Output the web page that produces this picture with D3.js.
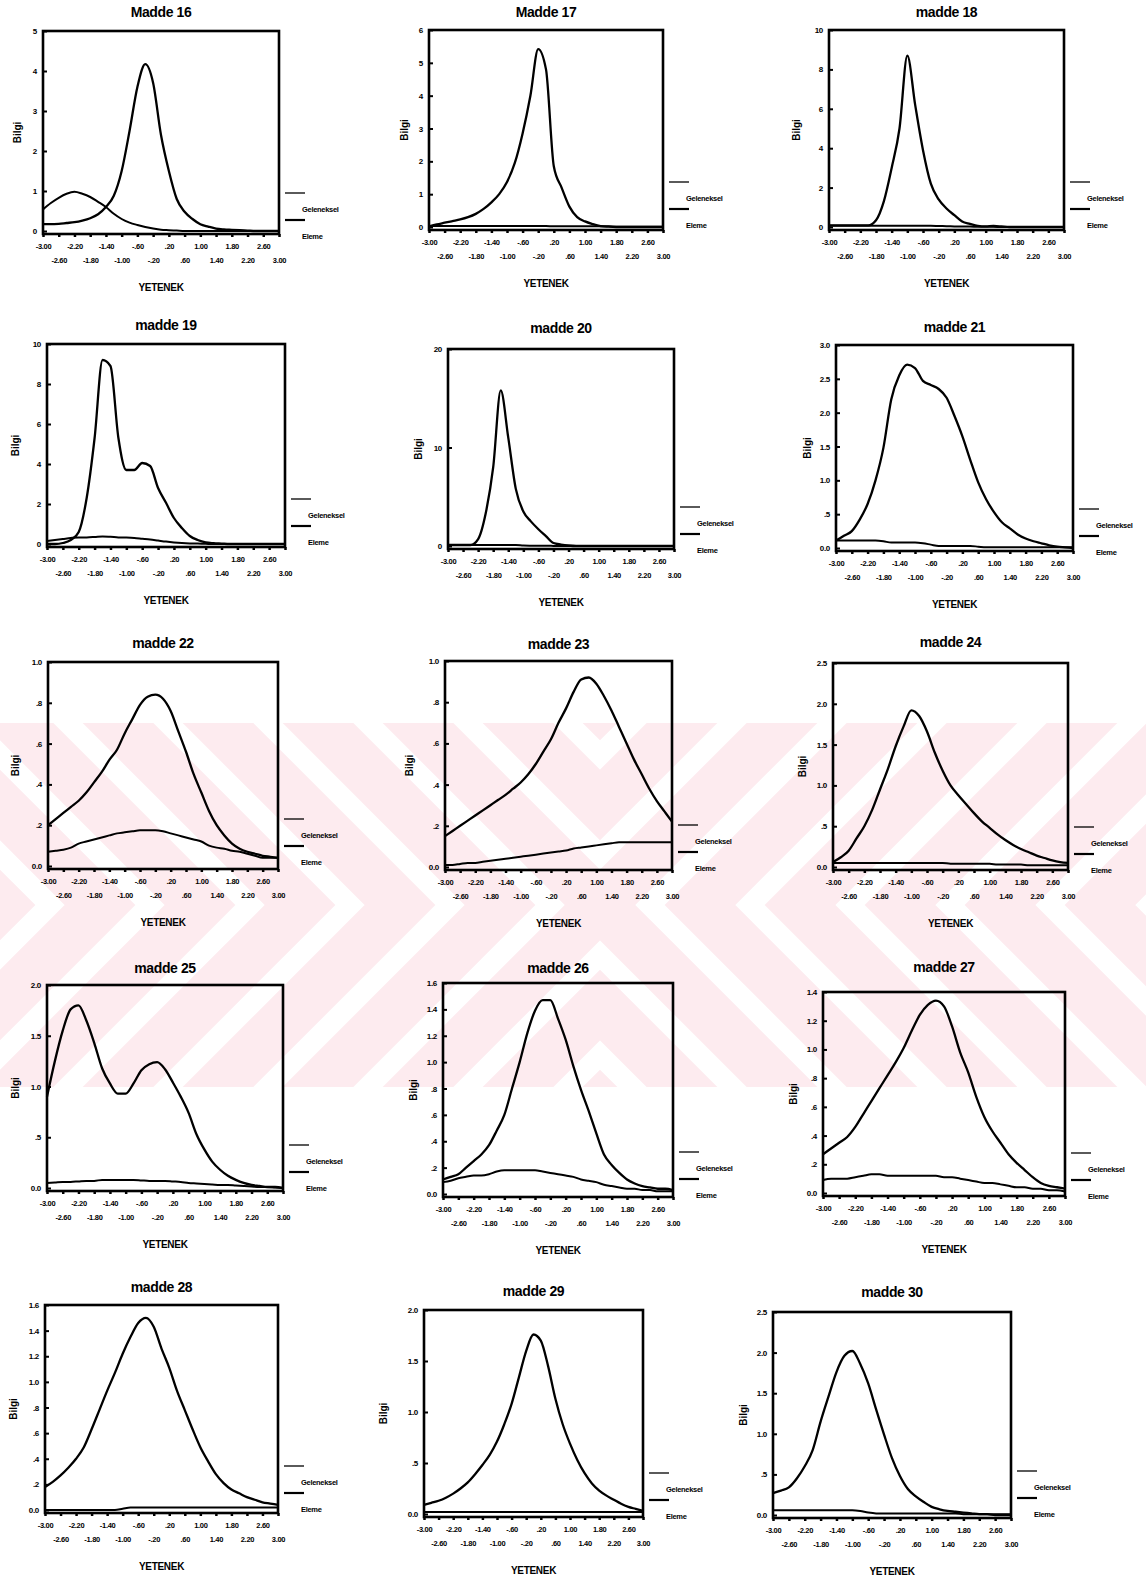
<!DOCTYPE html>
<html>
<head>
<meta charset="utf-8">
<script src="https://cdn.jsdelivr.net/npm/d3@7"></script>
<style>
  body { margin: 0; background: #fff; }
  svg text { font-family: "Liberation Sans", Arial, sans-serif; font-weight: bold; fill: #000; }
</style>
</head>
<body>
<svg id="chart" width="1146" height="1582"></svg>
<script>
/* Madde bilgi fonksiyonları — 15 panels, Geleneksel vs Eleme */

const THETA = [-3.0,-2.8,-2.6,-2.4,-2.2,-2.0,-1.8,-1.6,-1.4,-1.2,-1.0,-0.8,-0.6,-0.4,-0.2,0.0,0.2,0.4,0.6,0.8,1.0,1.2,1.4,1.6,1.8,2.0,2.2,2.4,2.6,2.8,3.0];
const X_TICKS = [-3.0,-2.6,-2.2,-1.8,-1.4,-1.0,-0.6,-0.2,0.2,0.6,1.0,1.4,1.8,2.2,2.6,3.0];
const LEGEND = ["Geleneksel", "Eleme"];

const TITLES = ["Madde 16","Madde 17","madde 18","madde 19","madde 20","madde 21","madde 22","madde 23","madde 24","madde 25","madde 26","madde 27","madde 28","madde 29","madde 30"];
const Y_MAX  = [5, 6, 10, 10, 20, 3, 1, 1, 2.5, 2, 1.6, 1.4, 1.6, 2, 2.5];
const Y_STEP = [1, 1, 2, 2, 10, 0.5, 0.2, 0.2, 0.5, 0.5, 0.2, 0.2, 0.2, 0.5, 0.5];

const gel16 = [0.17,0.17,0.18,0.2,0.22,0.26,0.32,0.42,0.6,0.88,1.5,2.5,3.6,4.17,3.7,2.4,1.5,0.8,0.48,0.3,0.17,0.11,0.06,0.04,0.03,0.02,0.01,0,0,0,0];
const elm16 = [0.54,0.7,0.83,0.93,0.98,0.93,0.85,0.73,0.6,0.43,0.3,0.21,0.15,0.1,0.06,0.03,0.02,0.01,0,0,0,0,0,0,0,0,0,0,0,0,0];
const gel17 = [0.02,0.08,0.13,0.18,0.23,0.3,0.4,0.55,0.75,1.0,1.37,1.95,2.85,4.0,5.42,4.8,1.85,1.2,0.62,0.3,0.17,0.09,0.03,0.01,0,0,0,0,0,0,0];
const elm17 = [0.03,0.03,0.03,0.03,0.03,0.03,0.03,0.03,0.03,0.03,0.03,0.03,0.03,0.03,0.03,0.03,0.02,0.02,0.02,0.02,0.02,0.02,0.02,0.02,0.01,0.01,0.01,0.01,0.01,0.01,0.01];
const gel18 = [0.08,0.08,0.08,0.08,0.08,0.08,0.34,1.3,3.0,5.0,8.7,6.2,3.9,2.2,1.4,0.94,0.6,0.28,0.16,0.06,0.03,0.05,0.03,0,0,0,0,0,0,0,0];
const elm18 = [0.06,0.06,0.06,0.06,0.06,0.06,0.06,0.06,0.06,0.06,0.06,0.06,0.06,0.06,0.05,0.04,0.03,0.02,0.02,0.01,0.01,0.01,0,0,0,0,0,0,0,0,0];
const gel19 = [0,0,0.05,0.2,0.6,2.3,5.3,9.2,8.9,5.3,3.7,3.7,4.05,3.9,2.8,2.06,1.3,0.8,0.4,0.2,0.08,0.04,0.02,0,0,0,0,0,0,0,0];
const elm19 = [0.15,0.2,0.25,0.3,0.33,0.33,0.35,0.38,0.36,0.33,0.32,0.3,0.26,0.22,0.17,0.12,0.08,0.05,0.03,0.02,0.01,0,0,0,0,0,0,0,0,0,0];
const gel20 = [0.1,0.1,0.1,0.1,0.7,3.3,8.0,15.8,11.0,5.8,3.5,2.5,1.7,1.0,0.3,0.15,0.05,0,0,0,0,0,0,0,0,0,0,0,0,0,0];
const elm20 = [0.1,0.1,0.1,0.1,0.1,0.1,0.1,0.1,0.1,0.1,0.05,0.03,0.02,0.02,0.01,0,0,0,0,0,0,0,0,0,0,0,0,0,0,0,0];
const gel21 = [0.11,0.18,0.25,0.42,0.65,1.0,1.48,2.2,2.55,2.71,2.66,2.47,2.41,2.35,2.22,1.95,1.65,1.3,0.97,0.72,0.53,0.38,0.29,0.2,0.14,0.1,0.07,0.04,0.02,0.01,0.0];
const elm21 = [0.11,0.11,0.11,0.11,0.11,0.11,0.1,0.08,0.08,0.08,0.08,0.07,0.05,0.03,0.03,0.03,0.03,0.03,0.02,0.01,0.01,0.01,0.01,0.01,0.01,0.01,0.01,0.01,0.01,0.01,0.01];
const gel22 = [0.2,0.23,0.26,0.29,0.32,0.36,0.41,0.46,0.52,0.57,0.65,0.72,0.79,0.83,0.84,0.82,0.76,0.66,0.56,0.45,0.36,0.27,0.2,0.15,0.11,0.085,0.07,0.06,0.05,0.045,0.04];
const elm22 = [0.07,0.075,0.08,0.09,0.11,0.12,0.13,0.14,0.15,0.16,0.165,0.17,0.175,0.175,0.175,0.17,0.16,0.15,0.14,0.13,0.12,0.1,0.09,0.085,0.075,0.07,0.06,0.05,0.04,0.04,0.04];
const gel23 = [0.15,0.175,0.2,0.225,0.25,0.275,0.3,0.325,0.35,0.38,0.41,0.45,0.5,0.56,0.62,0.7,0.77,0.85,0.91,0.92,0.89,0.83,0.76,0.68,0.6,0.52,0.45,0.38,0.32,0.27,0.22];
const elm23 = [0.01,0.01,0.015,0.02,0.02,0.025,0.03,0.035,0.04,0.045,0.05,0.055,0.06,0.065,0.07,0.075,0.08,0.09,0.095,0.1,0.105,0.11,0.115,0.12,0.12,0.12,0.12,0.12,0.12,0.12,0.12];
const gel24 = [0.06,0.12,0.2,0.35,0.5,0.7,0.95,1.2,1.48,1.72,1.92,1.85,1.66,1.4,1.18,1.0,0.88,0.77,0.66,0.56,0.48,0.4,0.33,0.27,0.22,0.18,0.14,0.11,0.08,0.06,0.05];
const elm24 = [0.05,0.05,0.05,0.05,0.05,0.05,0.05,0.05,0.05,0.05,0.05,0.05,0.05,0.05,0.05,0.04,0.04,0.04,0.04,0.04,0.04,0.03,0.03,0.03,0.03,0.02,0.02,0.02,0.02,0.02,0.02];
const gel25 = [0.9,1.25,1.55,1.76,1.8,1.65,1.43,1.18,1.03,0.93,0.93,1.03,1.16,1.22,1.24,1.17,1.04,0.9,0.74,0.53,0.38,0.26,0.18,0.12,0.08,0.05,0.03,0.02,0.01,0.01,0.0];
const elm25 = [0.05,0.055,0.06,0.06,0.065,0.07,0.07,0.08,0.08,0.08,0.08,0.08,0.075,0.07,0.07,0.07,0.065,0.06,0.05,0.045,0.04,0.035,0.03,0.03,0.025,0.02,0.015,0.01,0.01,0.005,0.0];
const gel26 = [0.11,0.13,0.15,0.2,0.25,0.3,0.37,0.48,0.6,0.8,1.0,1.22,1.39,1.47,1.47,1.33,1.17,0.97,0.79,0.63,0.46,0.3,0.22,0.16,0.11,0.08,0.06,0.05,0.04,0.04,0.03];
const elm26 = [0.09,0.1,0.12,0.13,0.14,0.14,0.15,0.17,0.18,0.18,0.18,0.18,0.18,0.17,0.16,0.15,0.14,0.13,0.11,0.1,0.09,0.07,0.06,0.05,0.04,0.04,0.03,0.03,0.02,0.02,0.02];
const gel27 = [0.27,0.31,0.35,0.39,0.46,0.55,0.64,0.73,0.82,0.91,1.01,1.13,1.24,1.31,1.34,1.3,1.16,0.98,0.84,0.67,0.53,0.43,0.35,0.27,0.21,0.16,0.11,0.07,0.05,0.04,0.03];
const elm27 = [0.09,0.1,0.1,0.1,0.11,0.12,0.13,0.13,0.12,0.12,0.12,0.12,0.12,0.12,0.12,0.11,0.11,0.1,0.09,0.08,0.07,0.07,0.06,0.05,0.04,0.04,0.03,0.03,0.02,0.02,0.01];
const gel28 = [0.18,0.22,0.27,0.33,0.4,0.49,0.63,0.78,0.93,1.07,1.22,1.35,1.46,1.5,1.43,1.26,1.11,0.93,0.78,0.63,0.49,0.38,0.28,0.21,0.16,0.13,0.1,0.08,0.06,0.05,0.04];
const elm28 = [0,0,0,0,0,0,0,0,0,0,0.01,0.02,0.02,0.02,0.02,0.02,0.02,0.02,0.02,0.02,0.02,0.02,0.02,0.02,0.02,0.02,0.02,0.02,0.02,0.02,0.02];
const gel29 = [0.09,0.11,0.13,0.16,0.2,0.25,0.31,0.39,0.48,0.58,0.71,0.88,1.08,1.34,1.6,1.76,1.7,1.45,1.13,0.88,0.69,0.53,0.4,0.3,0.23,0.18,0.14,0.1,0.07,0.05,0.03];
const elm29 = [0.02,0.02,0.02,0.02,0.02,0.02,0.02,0.02,0.02,0.02,0.02,0.02,0.02,0.02,0.02,0.02,0.02,0.02,0.02,0.02,0.02,0.02,0.02,0.02,0.02,0.02,0.02,0.02,0.02,0.02,0.02];
const gel30 = [0.27,0.3,0.34,0.45,0.6,0.8,1.15,1.46,1.76,1.96,2.02,1.86,1.62,1.3,0.99,0.7,0.48,0.32,0.23,0.16,0.1,0.07,0.05,0.04,0.03,0.02,0.01,0.01,0,0,0];
const elm30 = [0.06,0.06,0.06,0.06,0.06,0.06,0.06,0.06,0.06,0.06,0.06,0.05,0.03,0.02,0.02,0.02,0.02,0.02,0.02,0.02,0.02,0.02,0.02,0.02,0.01,0.01,0.01,0.01,0.01,0.01,0.01];

const GEL = [gel16,gel17,gel18,gel19,gel20,gel21,gel22,gel23,gel24,gel25,gel26,gel27,gel28,gel29,gel30];
const ELM = [elm16,elm17,elm18,elm19,elm20,elm21,elm22,elm23,elm24,elm25,elm26,elm27,elm28,elm29,elm30];

// panel boxes on the page (l,t,r,b), title y, "Bilgi" x, legend top line y
const PANELS = [
  {l:43,  t:31,   r:279,  b:234,  ty:12,   bx:17,  lg:193},
  {l:429, t:30,   r:663,  b:230,  ty:12,   bx:404, lg:182},
  {l:829, t:30,   r:1064, b:230,  ty:12,   bx:796, lg:182},
  {l:47,  t:344,  r:285,  b:547,  ty:325,  bx:15,  lg:499},
  {l:448, t:349,  r:674,  b:549,  ty:328,  bx:418, lg:507},
  {l:836, t:345,  r:1073, b:551,  ty:327,  bx:807, lg:509},
  {l:48,  t:662,  r:278,  b:869,  ty:643,  bx:15,  lg:819},
  {l:445, t:661,  r:672,  b:870,  ty:644,  bx:409, lg:825},
  {l:833, t:663,  r:1068, b:870,  ty:642,  bx:802, lg:827},
  {l:47,  t:985,  r:283,  b:1191, ty:968,  bx:15,  lg:1145},
  {l:443, t:983,  r:673,  b:1197, ty:968,  bx:413, lg:1152},
  {l:823, t:992,  r:1065, b:1196, ty:967,  bx:793, lg:1153},
  {l:45,  t:1305, r:278,  b:1513, ty:1287, bx:13,  lg:1466},
  {l:424, t:1310, r:643,  b:1517, ty:1291, bx:383, lg:1473},
  {l:773, t:1312, r:1011, b:1518, ty:1292, bx:743, lg:1471}
];

const svg = d3.select("#chart");

// ── faint pink watermark (X made of parallel bands) ──
function drawWatermark() {
  const top = 723, bot = 1087, cx = 600, cy = 905, P = 100, T = 1500;
  svg.append("clipPath").attr("id", "wm-clip")
    .append("rect").attr("x", 0).attr("y", top).attr("width", 1146).attr("height", bot - top);
  const g = svg.append("g").attr("clip-path", "url(#wm-clip)");
  const lines = [];
  for (let d = -700; d <= 260; d += P) {
    if (d >= 0) {
      lines.push([[cx - T, cy - d - T], [cx, cy - d], [cx + T, cy - d - T]]);
      lines.push([[cx - T, cy + d + T], [cx, cy + d], [cx + T, cy + d + T]]);
    } else {
      const e = -d;
      lines.push([[cx - e - T, cy - T], [cx - e, cy], [cx - e - T, cy + T]]);
      lines.push([[cx + e + T, cy - T], [cx + e, cy], [cx + e + T, cy + T]]);
    }
  }
  g.selectAll("path").data(lines).join("path")
    .attr("d", d3.line())
    .attr("fill", "none")
    .attr("stroke", "#fdebef")
    .attr("stroke-width", 50)
    .attr("stroke-linejoin", "miter")
    .attr("stroke-miterlimit", 4);
}

function fmtY(step) {
  return v => {
    if (Number.isInteger(step)) return String(v);
    if (v === 0) return "0.0";
    return v.toFixed(1).replace(/^0\./, ".");
  };
}
const fmtX = v => v.toFixed(2).replace(/^(-?)0\./, "$1.");

function drawPanel(i) {
  const p = PANELS[i];
  const g = svg.append("g").attr("class", "panel");
  const x = d3.scaleLinear().domain([-3, 3]).range([p.l, p.r]);
  const y = d3.scaleLinear().domain([0, Y_MAX[i]]).range([p.b - 3, p.t]);
  const cxm = (p.l + p.r) / 2;

  // title
  g.append("text").attr("x", cxm).attr("y", p.ty).attr("dy", "0.35em")
    .attr("text-anchor", "middle").attr("font-size", 14).attr("letter-spacing", -0.4)
    .text(TITLES[i]);

  // y axis
  const yTicks = d3.range(0, Y_MAX[i] + Y_STEP[i] / 2, Y_STEP[i]).map(v => +v.toFixed(2));
  const ya = g.append("g").attr("transform", `translate(${p.l},0)`)
    .call(d3.axisLeft(y).tickValues(yTicks).tickFormat(fmtY(Y_STEP[i]))
      .tickSizeInner(-4).tickSizeOuter(0).tickPadding(6));
  ya.select(".domain").remove();
  ya.selectAll("line").attr("stroke", "#000").attr("stroke-width", 2);
  ya.selectAll("text").attr("font-size", 8).attr("letter-spacing", -0.3)
    .style("font-family", "'Liberation Sans', Arial, sans-serif").style("font-weight", "bold");

  // x axis, labels on two staggered rows
  const xa = g.append("g").attr("transform", `translate(0,${p.b})`)
    .call(d3.axisBottom(x).tickValues(X_TICKS).tickFormat(fmtX).tickSizeInner(3).tickSizeOuter(0));
  xa.select(".domain").remove();
  xa.selectAll("line").attr("stroke", "#000").attr("stroke-width", 2.5);
  xa.selectAll("text")
    .attr("y", (d, k) => k % 2 ? 26 : 12).attr("dy", "0.35em")
    .attr("font-size", 7.5).attr("letter-spacing", -0.3)
    .style("font-family", "'Liberation Sans', Arial, sans-serif").style("font-weight", "bold");

  // axis titles
  g.append("text").attr("x", cxm).attr("y", p.b + 53).attr("dy", "0.35em")
    .attr("text-anchor", "middle").attr("font-size", 10).attr("letter-spacing", -0.3)
    .text("YETENEK");
  g.append("text").attr("transform", `translate(${p.bx},${(p.t + p.b) / 2}) rotate(-90)`)
    .attr("dy", "0.35em").attr("text-anchor", "middle").attr("font-size", 10)
    .text("Bilgi");

  // curves
  const line = d3.line().x((d, k) => x(THETA[k])).y(d => y(d)).curve(d3.curveMonotoneX);
  g.append("path").datum(ELM[i]).attr("d", line)
    .attr("fill", "none").attr("stroke", "#000").attr("stroke-width", 2);
  g.append("path").datum(GEL[i]).attr("d", line)
    .attr("fill", "none").attr("stroke", "#000").attr("stroke-width", 2.3);

  // frame
  g.append("rect").attr("x", p.l).attr("y", p.t)
    .attr("width", p.r - p.l).attr("height", p.b - p.t)
    .attr("fill", "none").attr("stroke", "#000").attr("stroke-width", 2.6);

  // legend
  const lx = p.r + 6;
  const rows = [{y: p.lg, w: 1.3}, {y: p.lg + 27, w: 2.2}];
  rows.forEach((r, k) => {
    g.append("line").attr("x1", lx).attr("x2", lx + 20).attr("y1", r.y).attr("y2", r.y)
      .attr("stroke", "#000").attr("stroke-width", r.w);
    g.append("text").attr("x", lx + 17).attr("y", r.y + 16).attr("dy", "0.35em")
      .attr("font-size", 7.5).attr("letter-spacing", -0.3).text(LEGEND[k]);
  });
}

drawWatermark();
PANELS.forEach((p, i) => drawPanel(i));
</script>
</body>
</html>
